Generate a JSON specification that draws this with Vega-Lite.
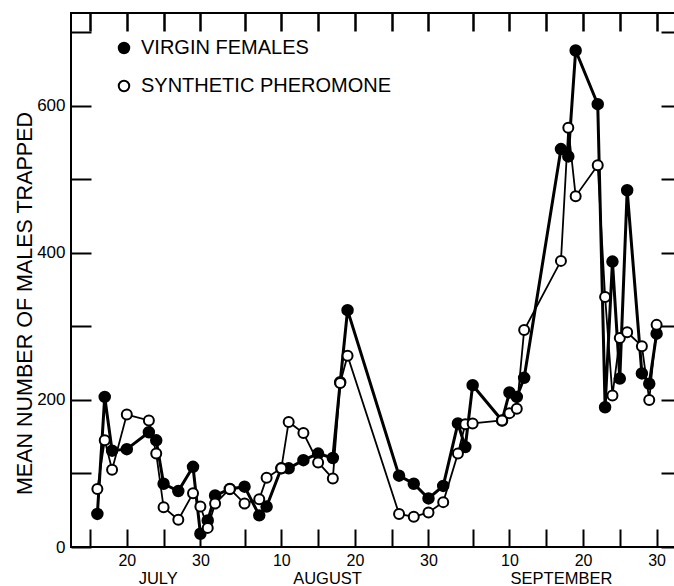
{
  "$schema": "https://vega.github.io/schema/vega-lite/v6.json",
  "width": 604,
  "height": 534,
  "autosize": {"type": "none"},
  "padding": {"left": 71, "top": 13, "right": 0, "bottom": 39},
  "background": "white",
  "config": {
    "view": {"stroke": "black", "strokeWidth": 2},
    "axis": {
      "grid": false,
      "domain": false,
      "tickColor": "black",
      "tickWidth": 2,
      "labelColor": "black",
      "labelFont": "Liberation Sans",
      "labelFontSize": 17,
      "titleFont": "Liberation Sans",
      "titleColor": "black",
      "titleFontWeight": "normal",
      "labelFlush": false,
      "labelOverlap": false
    },
    "legend": {
      "labelFont": "Liberation Sans",
      "labelFontSize": 20,
      "labelColor": "black",
      "labelLimit": 0
    }
  },
  "datasets": {
    "trap": [
      {"date": "1975-07-16", "series": "VIRGIN FEMALES", "value": 45},
      {"date": "1975-07-17", "series": "VIRGIN FEMALES", "value": 204},
      {"date": "1975-07-18", "series": "VIRGIN FEMALES", "value": 131},
      {"date": "1975-07-20", "series": "VIRGIN FEMALES", "value": 133},
      {"date": "1975-07-23", "series": "VIRGIN FEMALES", "value": 156},
      {"date": "1975-07-24", "series": "VIRGIN FEMALES", "value": 145},
      {"date": "1975-07-25", "series": "VIRGIN FEMALES", "value": 86},
      {"date": "1975-07-27", "series": "VIRGIN FEMALES", "value": 76},
      {"date": "1975-07-29", "series": "VIRGIN FEMALES", "value": 109},
      {"date": "1975-07-30", "series": "VIRGIN FEMALES", "value": 18},
      {"date": "1975-07-31", "series": "VIRGIN FEMALES", "value": 36},
      {"date": "1975-08-01", "series": "VIRGIN FEMALES", "value": 70},
      {"date": "1975-08-03", "series": "VIRGIN FEMALES", "value": 79},
      {"date": "1975-08-05", "series": "VIRGIN FEMALES", "value": 82},
      {"date": "1975-08-07", "series": "VIRGIN FEMALES", "value": 43},
      {"date": "1975-08-08", "series": "VIRGIN FEMALES", "value": 55},
      {"date": "1975-08-10", "series": "VIRGIN FEMALES", "value": 107},
      {"date": "1975-08-11", "series": "VIRGIN FEMALES", "value": 107},
      {"date": "1975-08-13", "series": "VIRGIN FEMALES", "value": 118},
      {"date": "1975-08-15", "series": "VIRGIN FEMALES", "value": 127},
      {"date": "1975-08-17", "series": "VIRGIN FEMALES", "value": 121},
      {"date": "1975-08-18", "series": "VIRGIN FEMALES", "value": 224},
      {"date": "1975-08-19", "series": "VIRGIN FEMALES", "value": 322},
      {"date": "1975-08-26", "series": "VIRGIN FEMALES", "value": 97},
      {"date": "1975-08-28", "series": "VIRGIN FEMALES", "value": 86},
      {"date": "1975-08-30", "series": "VIRGIN FEMALES", "value": 66},
      {"date": "1975-09-01", "series": "VIRGIN FEMALES", "value": 83},
      {"date": "1975-09-03", "series": "VIRGIN FEMALES", "value": 168},
      {"date": "1975-09-04", "series": "VIRGIN FEMALES", "value": 136},
      {"date": "1975-09-05", "series": "VIRGIN FEMALES", "value": 220},
      {"date": "1975-09-09", "series": "VIRGIN FEMALES", "value": 172},
      {"date": "1975-09-10", "series": "VIRGIN FEMALES", "value": 210},
      {"date": "1975-09-11", "series": "VIRGIN FEMALES", "value": 204},
      {"date": "1975-09-12", "series": "VIRGIN FEMALES", "value": 230},
      {"date": "1975-09-17", "series": "VIRGIN FEMALES", "value": 541},
      {"date": "1975-09-18", "series": "VIRGIN FEMALES", "value": 531},
      {"date": "1975-09-19", "series": "VIRGIN FEMALES", "value": 675},
      {"date": "1975-09-22", "series": "VIRGIN FEMALES", "value": 602},
      {"date": "1975-09-23", "series": "VIRGIN FEMALES", "value": 190},
      {"date": "1975-09-24", "series": "VIRGIN FEMALES", "value": 388},
      {"date": "1975-09-25", "series": "VIRGIN FEMALES", "value": 229},
      {"date": "1975-09-26", "series": "VIRGIN FEMALES", "value": 485},
      {"date": "1975-09-28", "series": "VIRGIN FEMALES", "value": 236},
      {"date": "1975-09-29", "series": "VIRGIN FEMALES", "value": 222},
      {"date": "1975-09-30", "series": "VIRGIN FEMALES", "value": 290},
      {"date": "1975-07-16", "series": "SYNTHETIC PHEROMONE", "value": 79},
      {"date": "1975-07-17", "series": "SYNTHETIC PHEROMONE", "value": 145},
      {"date": "1975-07-18", "series": "SYNTHETIC PHEROMONE", "value": 105},
      {"date": "1975-07-20", "series": "SYNTHETIC PHEROMONE", "value": 180},
      {"date": "1975-07-23", "series": "SYNTHETIC PHEROMONE", "value": 172},
      {"date": "1975-07-24", "series": "SYNTHETIC PHEROMONE", "value": 127},
      {"date": "1975-07-25", "series": "SYNTHETIC PHEROMONE", "value": 54},
      {"date": "1975-07-27", "series": "SYNTHETIC PHEROMONE", "value": 37},
      {"date": "1975-07-29", "series": "SYNTHETIC PHEROMONE", "value": 73},
      {"date": "1975-07-30", "series": "SYNTHETIC PHEROMONE", "value": 55},
      {"date": "1975-07-31", "series": "SYNTHETIC PHEROMONE", "value": 26},
      {"date": "1975-08-01", "series": "SYNTHETIC PHEROMONE", "value": 59},
      {"date": "1975-08-03", "series": "SYNTHETIC PHEROMONE", "value": 79},
      {"date": "1975-08-05", "series": "SYNTHETIC PHEROMONE", "value": 59},
      {"date": "1975-08-07", "series": "SYNTHETIC PHEROMONE", "value": 65},
      {"date": "1975-08-08", "series": "SYNTHETIC PHEROMONE", "value": 94},
      {"date": "1975-08-10", "series": "SYNTHETIC PHEROMONE", "value": 107},
      {"date": "1975-08-11", "series": "SYNTHETIC PHEROMONE", "value": 170},
      {"date": "1975-08-13", "series": "SYNTHETIC PHEROMONE", "value": 155},
      {"date": "1975-08-15", "series": "SYNTHETIC PHEROMONE", "value": 115},
      {"date": "1975-08-17", "series": "SYNTHETIC PHEROMONE", "value": 93},
      {"date": "1975-08-18", "series": "SYNTHETIC PHEROMONE", "value": 223},
      {"date": "1975-08-19", "series": "SYNTHETIC PHEROMONE", "value": 260},
      {"date": "1975-08-26", "series": "SYNTHETIC PHEROMONE", "value": 45},
      {"date": "1975-08-28", "series": "SYNTHETIC PHEROMONE", "value": 41},
      {"date": "1975-08-30", "series": "SYNTHETIC PHEROMONE", "value": 47},
      {"date": "1975-09-01", "series": "SYNTHETIC PHEROMONE", "value": 61},
      {"date": "1975-09-03", "series": "SYNTHETIC PHEROMONE", "value": 127},
      {"date": "1975-09-04", "series": "SYNTHETIC PHEROMONE", "value": 167},
      {"date": "1975-09-05", "series": "SYNTHETIC PHEROMONE", "value": 168},
      {"date": "1975-09-09", "series": "SYNTHETIC PHEROMONE", "value": 172},
      {"date": "1975-09-10", "series": "SYNTHETIC PHEROMONE", "value": 182},
      {"date": "1975-09-11", "series": "SYNTHETIC PHEROMONE", "value": 188},
      {"date": "1975-09-12", "series": "SYNTHETIC PHEROMONE", "value": 295},
      {"date": "1975-09-17", "series": "SYNTHETIC PHEROMONE", "value": 389},
      {"date": "1975-09-18", "series": "SYNTHETIC PHEROMONE", "value": 570},
      {"date": "1975-09-19", "series": "SYNTHETIC PHEROMONE", "value": 477},
      {"date": "1975-09-22", "series": "SYNTHETIC PHEROMONE", "value": 519},
      {"date": "1975-09-23", "series": "SYNTHETIC PHEROMONE", "value": 340},
      {"date": "1975-09-24", "series": "SYNTHETIC PHEROMONE", "value": 206},
      {"date": "1975-09-25", "series": "SYNTHETIC PHEROMONE", "value": 284},
      {"date": "1975-09-26", "series": "SYNTHETIC PHEROMONE", "value": 292},
      {"date": "1975-09-28", "series": "SYNTHETIC PHEROMONE", "value": 273},
      {"date": "1975-09-29", "series": "SYNTHETIC PHEROMONE", "value": 200},
      {"date": "1975-09-30", "series": "SYNTHETIC PHEROMONE", "value": 302}
    ]
  },
  "data": {"name": "trap"},
  "resolve": {"axis": {"x": "independent", "y": "independent"}},
  "layer": [
    {
      "transform": [{"filter": "datum.series == 'SYNTHETIC PHEROMONE'"}],
      "mark": {"type": "line", "color": "black", "strokeWidth": 1.8},
      "encoding": {
        "x": {
          "field": "date", "type": "temporal",
          "scale": {"type": "utc", "nice": false, "domain": [{"year": 1975, "month": 7, "date": 12, "hours": 10, "utc": true}, {"year": 1975, "month": 10, "date": 2, "hours": 12, "utc": true}]},
          "axis": {
            "orient": "bottom", "title": null,
            "values": [
              {"year": 1975, "month": 7, "date": 15, "utc": true},
              {"year": 1975, "month": 7, "date": 20, "utc": true},
              {"year": 1975, "month": 7, "date": 25, "utc": true},
              {"year": 1975, "month": 7, "date": 30, "utc": true},
              {"year": 1975, "month": 8, "date": 5, "utc": true},
              {"year": 1975, "month": 8, "date": 10, "utc": true},
              {"year": 1975, "month": 8, "date": 15, "utc": true},
              {"year": 1975, "month": 8, "date": 20, "utc": true},
              {"year": 1975, "month": 8, "date": 25, "utc": true},
              {"year": 1975, "month": 8, "date": 30, "utc": true},
              {"year": 1975, "month": 9, "date": 5, "utc": true},
              {"year": 1975, "month": 9, "date": 10, "utc": true},
              {"year": 1975, "month": 9, "date": 15, "utc": true},
              {"year": 1975, "month": 9, "date": 20, "utc": true},
              {"year": 1975, "month": 9, "date": 25, "utc": true},
              {"year": 1975, "month": 9, "date": 30, "utc": true}
            ],
            "tickSize": -18,
            "labelPadding": 23,
            "labelFontSize": 16,
            "labelExpr": "utcdate(datum.value) % 10 == 0 ? utcFormat(datum.value, '%d') : ''"
          }
        },
        "y": {
          "field": "value", "type": "quantitative",
          "scale": {"domain": [0, 726], "nice": false, "zero": true},
          "axis": {
            "orient": "left",
            "values": [0, 100, 200, 300, 400, 500, 600, 700],
            "tickSize": -20,
            "labelPadding": 26,
            "labelExpr": "datum.value % 200 == 0 ? datum.label : ''",
            "title": "MEAN NUMBER OF MALES TRAPPED",
            "titleFontSize": 21.5,
            "titleAngle": 270,
            "titleAlign": "center",
            "titleBaseline": "middle",
            "titleX": -46,
            "titleY": 290
          }
        }
      }
    },
    {
      "transform": [{"filter": "datum.series == 'VIRGIN FEMALES'"}],
      "mark": {"type": "line", "color": "black", "strokeWidth": 3},
      "encoding": {
        "x": {
          "field": "date", "type": "temporal",
          "axis": {
            "orient": "top", "title": null, "labels": false,
            "values": [
              {"year": 1975, "month": 7, "date": 15, "utc": true},
              {"year": 1975, "month": 7, "date": 20, "utc": true},
              {"year": 1975, "month": 7, "date": 25, "utc": true},
              {"year": 1975, "month": 7, "date": 30, "utc": true},
              {"year": 1975, "month": 8, "date": 5, "utc": true},
              {"year": 1975, "month": 8, "date": 10, "utc": true},
              {"year": 1975, "month": 8, "date": 15, "utc": true},
              {"year": 1975, "month": 8, "date": 20, "utc": true},
              {"year": 1975, "month": 8, "date": 25, "utc": true},
              {"year": 1975, "month": 8, "date": 30, "utc": true},
              {"year": 1975, "month": 9, "date": 5, "utc": true},
              {"year": 1975, "month": 9, "date": 10, "utc": true},
              {"year": 1975, "month": 9, "date": 15, "utc": true},
              {"year": 1975, "month": 9, "date": 20, "utc": true},
              {"year": 1975, "month": 9, "date": 25, "utc": true},
              {"year": 1975, "month": 9, "date": 30, "utc": true}
            ],
            "tickSize": -18,
            "tickWidth": 2.5
          }
        },
        "y": {
          "field": "value", "type": "quantitative",
          "axis": {
            "orient": "right", "title": null, "labels": false,
            "values": [0, 100, 200, 300, 400, 500, 600, 700],
            "tickSize": -14
          }
        }
      }
    },
    {
      "transform": [{"filter": "datum.series == 'VIRGIN FEMALES'"}],
      "mark": {"type": "circle", "size": 110, "stroke": "black", "strokeWidth": 2, "opacity": 1},
      "encoding": {
        "x": {
          "field": "date", "type": "temporal",
          "axis": {
            "orient": "bottom", "title": null, "ticks": false, "domain": false,
            "values": [
              {"year": 1975, "month": 7, "date": 24, "hours": 5, "utc": true},
              {"year": 1975, "month": 8, "date": 16, "hours": 5, "utc": true},
              {"year": 1975, "month": 9, "date": 17, "utc": true}
            ],
            "labelPadding": 36.5,
            "labelBaseline": "alphabetic",
            "labelFontSize": 16.5,
            "labelExpr": "upper(utcFormat(datum.value, '%B'))"
          }
        },
        "y": {"field": "value", "type": "quantitative", "axis": null},
        "fill": {
          "field": "series", "type": "nominal",
          "scale": {"domain": ["VIRGIN FEMALES", "SYNTHETIC PHEROMONE"], "range": ["black", "white"]},
          "legend": {
            "orient": "none", "legendX": 43, "legendY": 25, "title": null,
            "symbolType": "circle", "symbolSize": 110,
            "symbolStrokeColor": "black", "symbolStrokeWidth": 2,
            "symbolOpacity": 1,
            "labelFontSize": 20, "labelOffset": 7, "rowPadding": 18, "padding": 0,
            "labelLimit": 0
          }
        }
      }
    },
    {
      "transform": [{"filter": "datum.series == 'SYNTHETIC PHEROMONE'"}],
      "mark": {"type": "circle", "size": 100, "stroke": "black", "strokeWidth": 2, "opacity": 1},
      "encoding": {
        "x": {"field": "date", "type": "temporal", "axis": null},
        "y": {"field": "value", "type": "quantitative", "axis": null},
        "fill": {"field": "series", "type": "nominal"}
      }
    }
  ]
}
